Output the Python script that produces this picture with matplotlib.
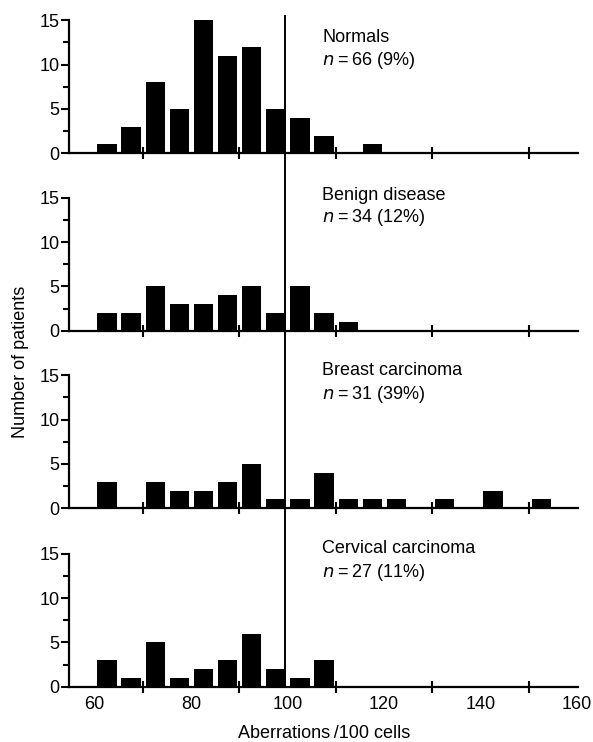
import numpy as np
import matplotlib
matplotlib.use("Agg")
import matplotlib.pyplot as plt
from matplotlib.lines import Line2D
from matplotlib.transforms import blended_transform_factory

plt.rcParams['font.family'] = ['Liberation Sans', 'DejaVu Sans']

# bin start (aberrations / 100 cells), bins of width 5
bins = [60, 65, 70, 75, 80, 85, 90, 95, 100, 105, 110, 115, 120, 125, 130, 135, 140, 145, 150]

normals = [1, 3, 8, 5, 15, 11, 12, 5, 4, 2, 0, 1, 0, 0, 0, 0, 0, 0, 0]
benign = [2, 2, 5, 3, 3, 4, 5, 2, 5, 2, 1, 0, 0, 0, 0, 0, 0, 0, 0]
breast = [3, 0, 3, 2, 2, 3, 5, 1, 1, 4, 1, 1, 1, 0, 1, 0, 2, 0, 1]
cervical = [3, 1, 5, 1, 2, 3, 6, 2, 1, 3, 0, 0, 0, 0, 0, 0, 0, 0, 0]

groups = ["Normals", "Benign disease", "Breast carcinoma", "Cervical carcinoma"]
n_labels = ["66 (9%)", "34 (12%)", "31 (39%)", "27 (11%)"]
cutoff = 99.5

series = [normals, benign, breast, cervical]
bottoms = [0.7934, 0.5543, 0.3150, 0.0745]
text_y = [(12.6, 10.0), (14.7, 12.3), (15.0, 12.3), (15.1, 12.4)]
fs = 13

fig = plt.figure(figsize=(5.93, 7.42), dpi=100)
axes = []
for i, vals in enumerate(series):
    ax = fig.add_axes([0.1169, bottoms[i], 0.8578, 0.1793])
    ax.bar(np.array(bins) + 2.6, vals, width=4.0, color='black', edgecolor='none')
    ax.set_xlim(54.8, 160.2)
    ax.set_ylim(0, 15)
    for s in ['top', 'right']:
        ax.spines[s].set_visible(False)
    ax.spines['left'].set_linewidth(1.6)
    ax.spines['bottom'].set_linewidth(1.6)
    ax.set_yticks([0, 5, 10, 15])
    ax.set_yticks([2.5, 7.5, 12.5], minor=True)
    ax.tick_params(axis='y', which='major', direction='out', length=6, width=1.5,
                   labelsize=fs, pad=1)
    ax.tick_params(axis='y', which='minor', direction='out', length=4, width=1.5)
    ax.set_xticks([60, 80, 100, 120, 140, 160])
    ax.set_xticks([70, 90, 110, 130, 150], minor=True)
    ax.tick_params(axis='x', which='major', length=0, labelsize=fs, pad=7)
    ax.tick_params(axis='x', which='minor', direction='inout', length=8, width=1.5)
    if i < 3:
        ax.tick_params(axis='x', labelbottom=False)
    ax.text(107.2, text_y[i][0], groups[i], fontsize=fs)
    ax.text(107.2, text_y[i][1], r"$n$" + "\u2009=\u2009" + n_labels[i], fontsize=fs,
            math_fontfamily='dejavusans')
    axes.append(ax)

# cut-off line running through all four panels
tr = blended_transform_factory(axes[3].transData, fig.transFigure)
fig.add_artist(Line2D([cutoff, cutoff], [0.0745, 0.978], transform=tr,
                      color='black', lw=1.4))

fig.text(0.035, 0.512, "Number of patients", rotation=90, fontsize=fs,
         ha='center', va='center')
axes[3].set_xlabel("Aberrations\u2009/100 cells", fontsize=fs, labelpad=8)

fig.savefig("out.png", dpi=100)
